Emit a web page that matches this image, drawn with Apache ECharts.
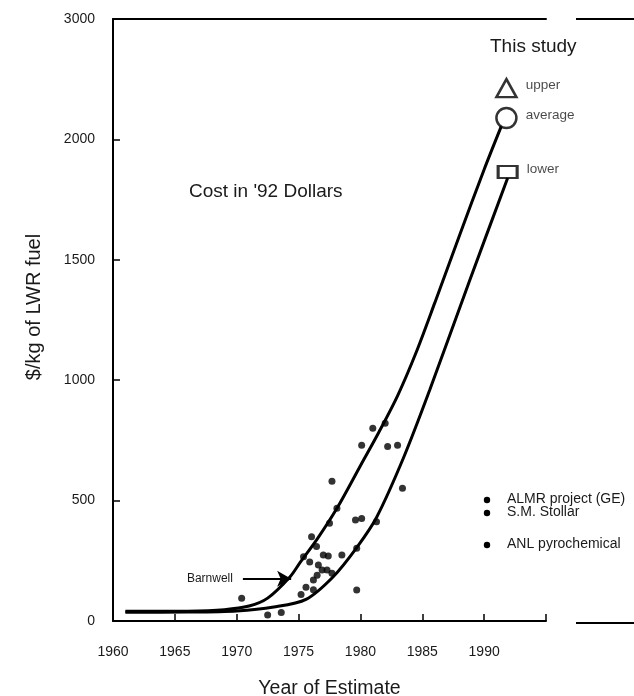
<!DOCTYPE html>
<html>
<head>
<meta charset="utf-8">
<script src="https://cdn.jsdelivr.net/npm/echarts@6/dist/echarts.min.js"></script>
<style>html,body{margin:0;padding:0;background:#fff}#c{width:634px;height:696px}</style>
</head>
<body>
<div id="c"></div>
<script>
// ---- data ----
var yearTicks = ['1960','1965','1970','1975','1980','1985','1990',''];
var valueTickLabels = ['0','500','1000','1500','2000','3000'];
var upperCurve = [[1961,40],[1966,41],[1969,47],[1971,62],[1972.5,95],[1974.3,183],[1975.1,241],[1976.5,340],[1978.1,468],[1980,645],[1981.5,785],[1983,935],[1984.5,1115],[1986,1320],[1988,1600],[1990,1875],[1991.4,2056]];
var lowerCurve = [[1961,36],[1966,37],[1970,42],[1973,58],[1975.6,90],[1977.8,184],[1979.7,305],[1981.3,430],[1983.5,680],[1985.6,959],[1988.8,1410],[1991.9,1840]];
var estimates = [[1970.4,94],[1972.5,25],[1973.6,35],[1975.2,110],[1975.6,140],[1976.2,130],[1976.2,170],[1975.4,267],[1976.05,350],[1976.45,309],[1976.6,233],[1976.9,212],[1977.0,274],[1977.4,270],[1977.3,212],[1977.7,198],[1978.5,274],[1977.5,406],[1977.7,580],[1978.1,468],[1979.6,419],[1980.1,426],[1979.7,302],[1979.7,129],[1980.1,730],[1981.0,800],[1982.0,821],[1981.3,412],[1982.2,725],[1983.0,730],[1983.4,551],[1976.5,190],[1975.9,245]];
var studyNames = ['upper','average','lower'];
var studyPoints = [[1991.8,2213],[1991.8,2089],[1991.9,1865]];
var barnwell = [[1970.5,175],[1974.4,175]];
var legendNames = ['ALMR project (GE)','S.M. Stollar','ANL pyrochemical'];

var txt = '#1a1a1a';
var font = 'Liberation Sans, Arial, sans-serif';
var chart = echarts.init(document.getElementById('c'));
var symbols = ['triangle','circle','rect'];
var sizes = [[20,18],[20,20],[19,12]];

chart.setOption({
  animation:false,
  backgroundColor:'#fff',
  textStyle:{fontFamily:font},
  grid:{left:113,right:88,top:19,bottom:75,outerBoundsMode:'none',containLabel:false},
  xAxis:[{
    type:'value',min:1960,max:1995,interval:5,
    name:'Year of Estimate',nameLocation:'middle',nameGap:58,
    nameTextStyle:{fontSize:19.5,color:txt,fontFamily:font},
    axisLine:{lineStyle:{color:'#000',width:2}},
    axisTick:{inside:true,length:7,lineStyle:{color:'#000',width:1.5}},
    axisLabel:{margin:24,fontSize:14,color:txt,formatter:function(v){return yearTicks[Math.round((v-1960)/5)]||'';}},
    splitLine:{show:false}
  },{
    type:'value',min:1960,max:1995,position:'top',
    axisLine:{lineStyle:{color:'#000',width:2}},
    axisTick:{show:false},axisLabel:{show:false},splitLine:{show:false}
  }],
  yAxis:{
    type:'value',min:0,max:2500,interval:500,
    axisLine:{lineStyle:{color:'#000',width:2}},
    axisTick:{inside:true,length:7,lineStyle:{color:'#000',width:1.5}},
    axisLabel:{margin:18,fontSize:14,color:txt,formatter:function(v){return valueTickLabels[Math.round(v/500)];}},
    splitLine:{show:false}
  },
  series:[
    {type:'line',data:upperCurve,smooth:0.3,symbol:'none',lineStyle:{color:'#000',width:3},z:2,
     markLine:{silent:true,symbol:['none','arrow'],symbolSize:[12,14],
       lineStyle:{color:'#000',width:2,type:'solid'},
       label:{show:true,position:'start',formatter:'Barnwell',color:txt,fontSize:12,distance:10},
       data:[[{coord:barnwell[0]},{coord:barnwell[1]}]]}},
    {type:'line',data:lowerCurve,smooth:0.3,symbol:'none',lineStyle:{color:'#000',width:3},z:2},
    {type:'scatter',data:estimates,symbol:'circle',symbolSize:7,itemStyle:{color:'#000'},z:3},
    {type:'scatter',z:5,
     data:studyPoints.map(function(p,i){return {value:p,name:studyNames[i],symbol:symbols[i],symbolSize:sizes[i]};}),
     itemStyle:{color:'#fff',borderColor:'#000',borderWidth:2.5},
     label:{show:true,position:'right',distance:8,formatter:'{b}',color:txt,fontSize:13.5,offset:[0,-3]}}
  ],
  graphic:[
    {type:'text',x:34,y:307,rotation:Math.PI/2,style:{text:'$/kg of LWR fuel',fontSize:20,fill:txt,fontFamily:font,align:'center',verticalAlign:'middle'}},
    {type:'text',left:189,top:182,style:{text:"Cost in '92 Dollars",fontSize:19,fill:txt,fontFamily:font}},
    {type:'text',left:490,top:37,style:{text:'This study',fontSize:19,fill:txt,fontFamily:font}},
    {type:'circle',shape:{cx:487,cy:500,r:3.2},style:{fill:'#000'}},
    {type:'circle',shape:{cx:487,cy:513,r:3.2},style:{fill:'#000'}},
    {type:'circle',shape:{cx:487,cy:545,r:3.2},style:{fill:'#000'}},
    {type:'text',left:507,top:492,style:{text:legendNames[0],fontSize:14,fill:txt,fontFamily:font}},
    {type:'text',left:507,top:505,style:{text:legendNames[1],fontSize:14,fill:txt,fontFamily:font}},
    {type:'text',left:507,top:537,style:{text:legendNames[2],fontSize:14,fill:txt,fontFamily:font}},
    {type:'line',shape:{x1:576,y1:19,x2:634,y2:19},style:{stroke:'#000',lineWidth:2}},
    {type:'line',shape:{x1:576,y1:623,x2:634,y2:623},style:{stroke:'#000',lineWidth:2}}
  ]
});
</script>
</body>
</html>
